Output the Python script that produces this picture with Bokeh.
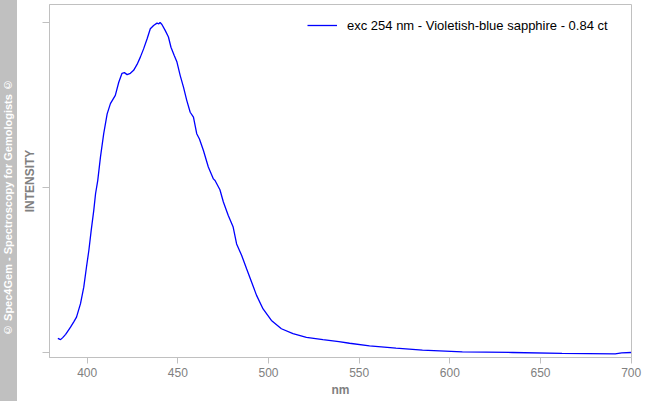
from bokeh.plotting import figure
from bokeh.layouts import row
from bokeh.models import Range1d, FixedTicker, Legend, LegendItem, Div
from bokeh.embed import file_html
from bokeh.resources import INLINE

# ---- data ----
wavelength_nm = [383.8, 385.3, 386.5, 388.1, 390.8, 392.5, 394.1, 396.3, 398.1, 399.6,
                 400.9, 402.2, 403.6, 404.6, 405.8, 407.3, 409.1, 411.0, 412.8, 415.5,
                 417.4, 419.2, 420.5, 422.0, 423.8, 425.6, 427.5, 429.3, 431.1, 433.0,
                 434.8, 436.6, 438.5, 439.5, 440.2, 441.2, 443.0, 444.8, 446.2, 448.0,
                 449.5, 451.3, 453.1, 454.9, 456.8, 458.6, 460.4, 461.9, 464.1, 466.8,
                 469.6, 470.5, 473.2, 475.1, 477.8, 480.5, 482.4, 485.2, 487.9, 490.7,
                 493.4, 497.0, 501.6, 507.1, 513.5, 520.9, 530.0, 538.8, 544.7, 555.7,
                 570.3, 584.9, 606.9, 634.4, 661.9, 691.2, 694.8, 700.0]
intensity = [0.043, 0.039, 0.045, 0.055, 0.077, 0.092, 0.107, 0.148, 0.198, 0.259,
             0.309, 0.370, 0.430, 0.481, 0.521, 0.592, 0.663, 0.723, 0.754, 0.779,
             0.819, 0.846, 0.848, 0.842, 0.846, 0.855, 0.873, 0.895, 0.920, 0.950,
             0.981, 0.991, 0.998, 0.996, 1.000, 0.994, 0.976, 0.956, 0.925, 0.900,
             0.880, 0.839, 0.804, 0.764, 0.728, 0.713, 0.663, 0.647, 0.612, 0.562,
             0.526, 0.521, 0.493, 0.456, 0.415, 0.380, 0.329, 0.294, 0.254, 0.213,
             0.173, 0.132, 0.097, 0.072, 0.057, 0.046, 0.039, 0.033, 0.028, 0.020,
             0.013, 0.007, 0.002, 0.000, -0.003, -0.004, -0.001, 0.000]
x_ticks = [400, 450, 500, 550, 600, 650, 700]
y_ticks = [0, 0.5, 1.0]
series_label = "exc 254 nm - Violetish-blue sapphire - 0.84 ct"
banner_text = "\u00a9 Spec4Gem - Spectroscopy for Gemologists \u00a9"

FONT = "Liberation Sans"
GRAY_AXIS = "#c0c0c0"
GRAY_TEXT = "#808080"
BANNER = "#c0c0c0"

# ---- banner ----
b = Div(text=banner_text, width=17, height=401, margin=0,
        styles={"background-color": BANNER, "color": "white",
                "font-family": FONT, "font-weight": "bold", "font-size": "11px",
                "writing-mode": "vertical-rl", "transform": "rotate(180deg)",
                "text-align": "center", "line-height": "17px",
                "white-space": "nowrap", "box-sizing": "border-box",
                "padding-bottom": "14px", "overflow": "hidden"})

# ---- main plot ----
p = figure(width=629, height=401, output_backend="svg", toolbar_location=None,
           x_range=Range1d(379.2, 700.2), y_range=Range1d(-0.0152, 1.0545),
           min_border_left=32, min_border_right=15, min_border_top=4, min_border_bottom=44)
p.grid.visible = False
p.outline_line_color = GRAY_AXIS
p.background_fill_color = "white"
p.border_fill_color = "white"

r = p.line(wavelength_nm, intensity, line_color="#0000ff", line_width=1.3)

xa = p.xaxis[0]
xa.ticker = FixedTicker(ticks=x_ticks)
xa.axis_line_color = GRAY_AXIS
xa.major_tick_line_color = GRAY_AXIS
xa.major_tick_out = 6
xa.major_tick_in = 0
xa.minor_tick_line_color = None
xa.major_label_text_color = GRAY_TEXT
xa.major_label_text_font = FONT
xa.major_label_text_font_size = "12px"
xa.major_label_standoff = 4
xa.axis_label = "nm"
xa.axis_label_text_color = GRAY_TEXT
xa.axis_label_text_font = FONT
xa.axis_label_text_font_size = "12px"
xa.axis_label_text_font_style = "bold"
xa.axis_label_standoff = 3

ya = p.yaxis[0]
ya.ticker = FixedTicker(ticks=y_ticks)
ya.axis_line_color = GRAY_AXIS
ya.major_tick_line_color = GRAY_AXIS
ya.major_tick_out = 7
ya.major_tick_in = 0
ya.minor_tick_line_color = None
ya.major_label_overrides = {0: "", 0.5: "", 1.0: ""}
ya.major_label_standoff = 0
ya.axis_label = "INTENSITY"
ya.axis_label_text_color = GRAY_TEXT
ya.axis_label_text_font = FONT
ya.axis_label_text_font_size = "12px"
ya.axis_label_text_font_style = "bold"
ya.axis_label_standoff = 6

legend = Legend(items=[LegendItem(label=series_label, renderers=[r])],
                location=(258, 322), padding=0, margin=0, glyph_width=30,
                glyph_height=20, label_standoff=10,
                label_text_font=FONT, label_text_font_size="13px",
                label_text_color="black", border_line_color=None,
                background_fill_alpha=0)
p.add_layout(legend)

layout = row(b, p)

open("out.html", "w").write(file_html(layout, INLINE))
